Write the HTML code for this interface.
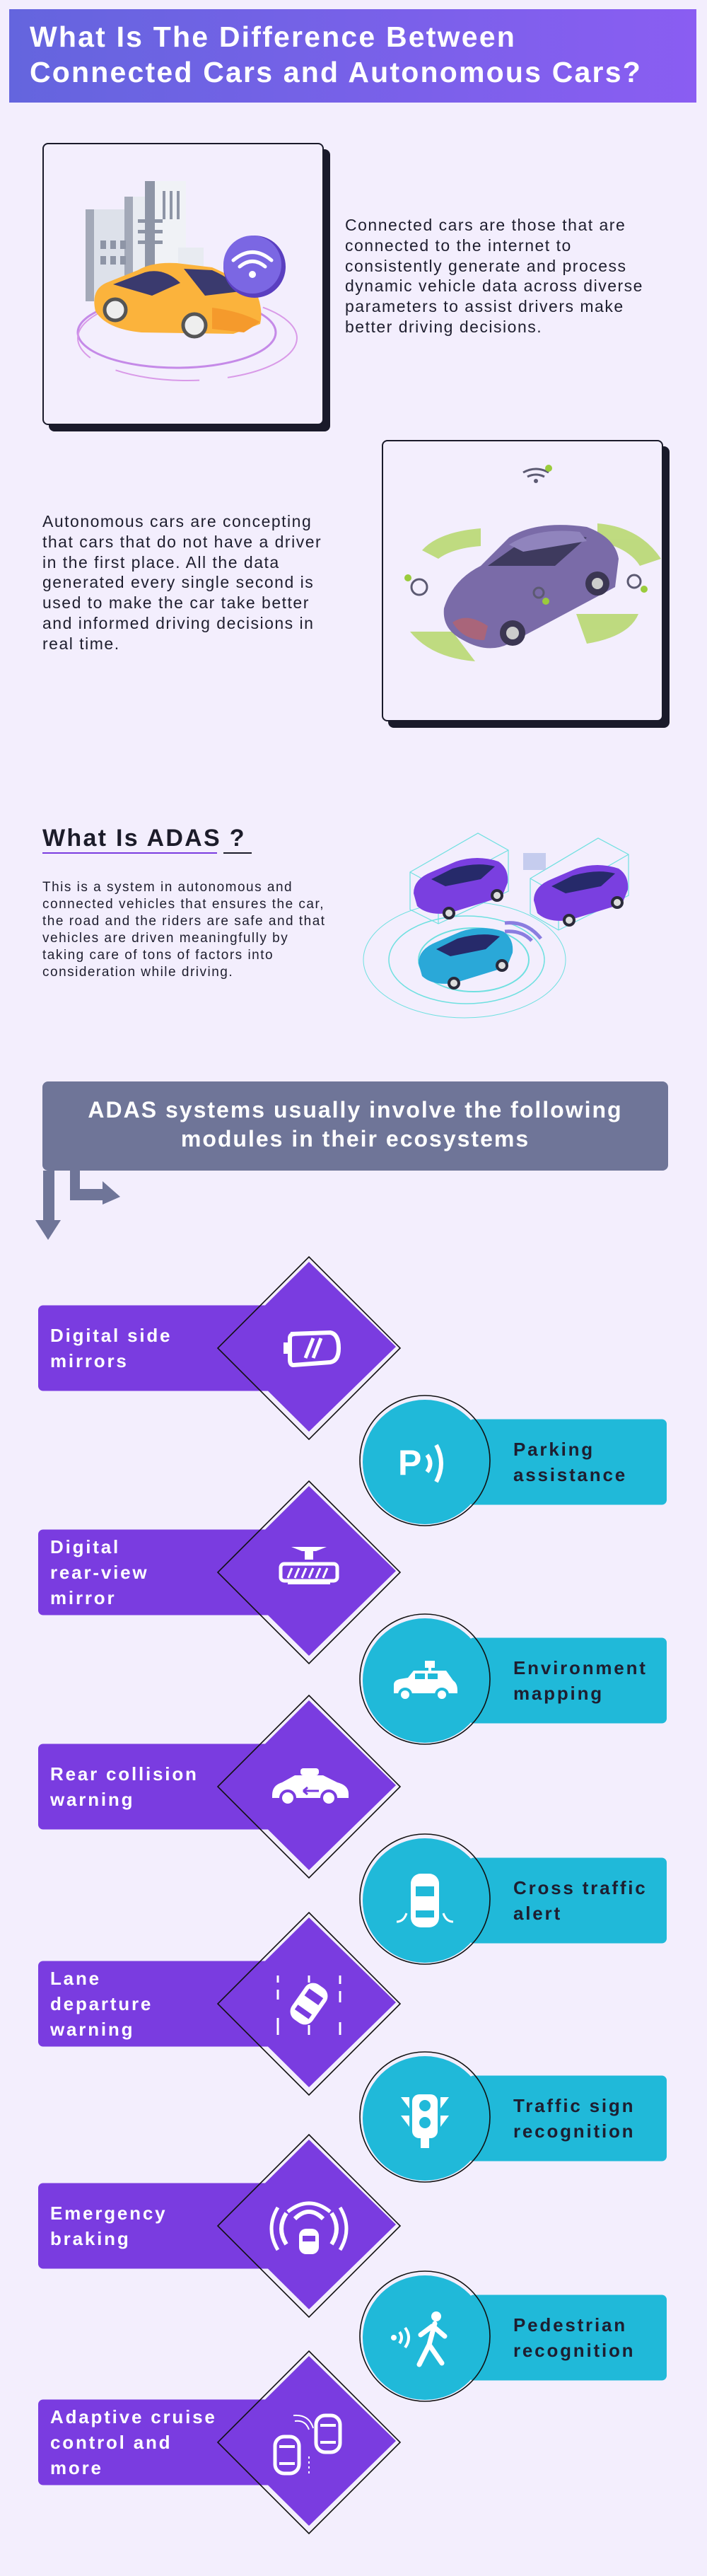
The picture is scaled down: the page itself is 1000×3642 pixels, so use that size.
<!DOCTYPE html>
<html><head><meta charset="utf-8">
<style>
html,body{margin:0;padding:0}
body{width:1000px;height:3642px;background:#f3eefd;position:relative;overflow:hidden;font-family:"Liberation Sans",sans-serif}
.abs{position:absolute}
.title{left:42px;top:27px;color:#fff;font-weight:bold;font-size:41px;line-height:50px;letter-spacing:2.2px;white-space:nowrap}
.p{color:#1e1e2e;font-size:23px;line-height:28.8px;letter-spacing:1.5px;white-space:nowrap}
.box{background:#f3eefd;border:2px solid #1a1a2a;border-radius:8px;box-shadow:9px 9px 0 #1a1a2a}
.lbl{display:flex;align-items:center;font-weight:bold;font-size:26px;line-height:36px;letter-spacing:2.8px;white-space:nowrap}
</style></head>
<body>
<div class="abs" style="left:13px;top:13px;width:972px;height:132px;background:linear-gradient(90deg,#6465de,#8a5df2)"></div>
<div class="abs title">What Is The Difference Between<br>Connected Cars and Autonomous Cars?</div>

<div class="abs box" style="left:60px;top:202px;width:394px;height:395px">
<svg width="394" height="395">
 <g transform="translate(-62,-204)">
  <rect x="121" y="296" width="62" height="130" fill="#dde1ea"/><rect x="121" y="296" width="12" height="130" fill="#a3a9b8"/>
  <rect x="176" y="278" width="60" height="150" fill="#e8ebf1"/><rect x="176" y="278" width="12" height="150" fill="#a3a9b8"/>
  <rect x="205" y="256" width="58" height="150" fill="#f0f2f6"/><rect x="205" y="256" width="14" height="150" fill="#8e95a6"/>
  <rect x="252" y="350" width="36" height="80" fill="#e8ebf1"/>
  <g fill="#8e95a6"><rect x="142" y="340" width="8" height="12"/><rect x="156" y="340" width="8" height="12"/><rect x="170" y="340" width="8" height="12"/><rect x="142" y="362" width="8" height="12"/><rect x="156" y="362" width="8" height="12"/><rect x="170" y="362" width="8" height="12"/><rect x="195" y="310" width="35" height="5"/><rect x="195" y="325" width="35" height="5"/><rect x="195" y="340" width="35" height="5"/><rect x="230" y="270" width="4" height="40"/><rect x="240" y="270" width="4" height="40"/><rect x="250" y="270" width="4" height="40"/></g>
  <ellipse cx="250" cy="470" rx="140" ry="50" fill="none" stroke="#c58ae8" stroke-width="3"/>
  <ellipse cx="265" cy="478" rx="155" ry="60" fill="none" stroke="#d99ae8" stroke-width="2" stroke-dasharray="120 40"/>
  <path d="M135 440 Q128 410 150 400 L195 382 Q215 370 250 372 L300 378 Q340 395 365 420 Q372 440 368 458 L330 472 L200 470 Q150 465 135 440Z" fill="#fbb33c"/>
  <path d="M160 402 L205 385 Q232 378 255 400 L215 418Z" fill="#3a3a6e"/>
  <path d="M260 380 L300 382 Q330 395 340 412 L290 418Z" fill="#3a3a6e"/>
  <path d="M300 435 Q340 440 368 455 L345 470 L300 465Z" fill="#f59a2c"/>
  <circle cx="163" cy="438" r="15" fill="#eee" stroke="#555" stroke-width="5"/>
  <circle cx="275" cy="460" r="16" fill="#eee" stroke="#555" stroke-width="5"/>
  <circle cx="360" cy="377" r="44" fill="#5a3fc0"/><circle cx="357" cy="374" r="41" fill="#7b67e3"/>
  <g fill="none" stroke="#fff" stroke-width="5" stroke-linecap="round"><path d="M330 368 Q357 345 384 368"/><path d="M339 377 Q357 362 375 377"/></g>
  <circle cx="357" cy="388" r="5" fill="#fff"/>
 </g>
</svg></div>
<div class="abs p" style="left:488px;top:304px">Connected cars are those that are<br>connected to the internet to<br>consistently generate and process<br>dynamic vehicle data across diverse<br>parameters to assist drivers make<br>better driving decisions.</div>

<div class="abs p" style="left:60px;top:723px">Autonomous cars are concepting<br>that cars that do not have a driver<br>in the first place. All the data<br>generated every single second is<br>used to make the car take better<br>and informed driving decisions in<br>real time.</div>
<div class="abs box" style="left:540px;top:622px;width:394px;height:394px">
<svg width="394" height="394">
 <g transform="translate(-542,-624)">
  <g fill="#b5d76a" opacity="0.85">
   <path d="M597 778 Q620 752 680 747 L680 772 Q640 775 620 790Z"/><path d="M845 740 Q905 745 935 790 L905 800 Q890 775 845 765Z"/>
   <path d="M580 893 L640 893 L672 935 Q610 930 580 893Z"/><path d="M815 868 L903 868 Q890 900 830 910Z"/>
  </g>
  <path d="M628 860 Q640 820 680 800 L720 760 Q760 735 830 745 Q870 760 875 790 L870 830 L720 910 Q690 925 655 905 Q625 890 628 860Z" fill="#7a6ba8"/>
  <path d="M690 800 L735 768 Q780 750 830 760 L785 800Z" fill="#3e3a5e"/>
  <path d="M720 770 Q760 745 820 752 L830 765 L740 780Z" fill="#9084bd"/>
  <path d="M640 880 Q660 865 690 885 L685 905 Q655 905 640 880Z" fill="#a9657a"/>
  <circle cx="725" cy="895" r="18" fill="#3b3652"/><circle cx="725" cy="895" r="9" fill="#ccc"/>
  <circle cx="845" cy="825" r="17" fill="#3b3652"/><circle cx="845" cy="825" r="8" fill="#ccc"/>
  <g fill="none" stroke="#5c5a72" stroke-width="3"><path d="M740 668 Q758 658 776 668"/><path d="M746 674 Q758 668 770 674"/><circle cx="593" cy="830" r="11"/><circle cx="897" cy="822" r="9"/><circle cx="762" cy="838" r="7"/></g>
  <circle cx="758" cy="680" r="3" fill="#5c5a72"/>
  <g fill="#9acb3c"><circle cx="776" cy="662" r="5"/><circle cx="577" cy="817" r="5"/><circle cx="911" cy="833" r="5"/><circle cx="772" cy="850" r="5"/></g>
 </g>
</svg></div>

<div class="abs" style="left:60px;top:1165px;font-weight:bold;font-size:34px;line-height:40px;color:#1c1c2a;letter-spacing:2.3px;white-space:nowrap">What Is ADAS ?</div>
<div class="abs" style="left:60px;top:1205px;width:247px;height:2px;background:#7a3be0"></div>
<div class="abs" style="left:316px;top:1205px;width:40px;height:2px;background:#1c1c2a"></div>
<div class="abs" style="left:60px;top:1243px;font-size:19px;line-height:24px;letter-spacing:1.5px;color:#1e1e2e;white-space:nowrap">This is a system in autonomous and<br>connected vehicles that ensures the car,<br>the road and the riders are safe and that<br>vehicles are driven meaningfully by<br>taking care of tons of factors into<br>consideration while driving.</div>

<svg class="abs" style="left:500px;top:1150px" width="420" height="320">
 <defs><g id="car"><path d="M0 50 Q0 30 25 20 L60 5 Q90 -5 120 5 Q135 15 133 35 L125 55 L50 78 Q20 82 5 68Z"/><path d="M25 30 L55 15 Q90 5 115 12 L95 30 L45 40Z" fill="#262a6a"/><circle cx="50" cy="78" r="9" fill="#2a2a3a"/><circle cx="50" cy="78" r="5" fill="#ddd"/><circle cx="118" cy="53" r="9" fill="#2a2a3a"/><circle cx="118" cy="53" r="5" fill="#ddd"/></g></defs>
 <g fill="none" stroke="#6fe0e0">
  <ellipse cx="157" cy="207" rx="143" ry="82" stroke-width="1"/><ellipse cx="160" cy="207" rx="110" ry="62" stroke-width="1.5"/><ellipse cx="170" cy="207" rx="78" ry="45" stroke-width="2"/>
  <path d="M80 83 L176 28 L219 52 L219 110 L120 156 L80 136Z M80 83 L120 105 L219 52 M120 105 L120 156" stroke-width="1.2"/>
  <path d="M250 92 L346 35 L389 58 L389 116 L290 165 L250 142Z M250 92 L290 115 L389 58 M290 115 L290 165" stroke-width="1.2"/>
 </g>
 <use href="#car" x="85" y="63" fill="#7a3fe0"/>
 <use href="#car" x="255" y="73" fill="#7a3fe0"/>
 <use href="#car" x="92" y="162" fill="#2aa8d8"/>
 <rect x="240" y="56" width="32" height="24" fill="#b9c3ea" opacity="0.8"/>
 <g fill="none" stroke="#8a7de0" stroke-width="5"><path d="M214 155 Q245 152 265 177"/><path d="M214 167 Q238 165 252 180"/></g>
</svg>

<div class="abs" style="left:60px;top:1529px;width:885px;height:126px;background:#6f7598;border-radius:8px"></div>
<div class="abs" style="left:60px;top:1569px;width:885px;text-align:center;color:#fff;font-weight:bold;font-size:32px;line-height:41px;letter-spacing:2px;white-space:nowrap;transform:translateY(-20px)">ADAS systems usually involve the following<br>modules in their ecosystems</div>
<svg class="abs" style="left:0;top:1650px" width="200" height="110">
 <path d="M61 5 L77 5 L77 75 L86 75 L68 103 L50 75 L61 75Z" fill="#6f7598"/>
 <path d="M99 0 L113 0 L113 31 L145 31 L145 20 L170 42 L145 53 L145 47 L99 47Z" fill="#6f7598"/>
</svg>

<svg id="mods" class="abs" style="left:0;top:0" width="1000" height="3642"></svg>
<div id="labels"></div>

<script>
const purpleLabels = [["Digital side","mirrors"],["Digital","rear-view","mirror"],["Rear collision","warning"],["Lane","departure","warning"],["Emergency","braking"],["Adaptive cruise","control and","more"]];
const purpleCenters = [1906, 2223, 2526, 2833, 3147, 3453];
const purpleIcons = ["mirror","rearview","collision","lane","braking","cruise"];
const tealLabels = [["Parking","assistance"],["Environment","mapping"],["Cross traffic","alert"],["Traffic sign","recognition"],["Pedestrian","recognition"]];
const tealCenters = [2067, 2376, 2687, 2995, 3305];
const tealIcons = ["parking","envmap","cross","traffic","pedestrian"];

const NS="http://www.w3.org/2000/svg";
const svg=document.getElementById('mods');
const labels=document.getElementById('labels');
const icons={
 mirror:'<rect x="-36" y="-8" width="10" height="16" fill="#fff"/><path d="M-26 -20 L30 -22 Q42 -20 42 0 Q42 18 30 20 L-22 24 Q-27 24 -27 16 L-27 -14 Q-27 -20 -20 -20Z" fill="none" stroke="#fff" stroke-width="6"/><path d="M-5 14 L6 -14 M6 14 L17 -14" stroke="#fff" stroke-width="5"/>',
 rearview:'<path d="M-25 -36 L25 -36 L10 -30 L-10 -30Z" fill="#fff"/><rect x="-6" y="-30" width="12" height="12" fill="#fff"/><rect x="-40" y="-12" width="80" height="24" rx="5" fill="none" stroke="#fff" stroke-width="5"/><path d="M-30 8 L-24 -6 M-20 8 L-14 -6 M-10 8 L-4 -6 M0 8 L6 -6 M10 8 L16 -6 M20 8 L26 -6" stroke="#fff" stroke-width="3"/><rect x="-30" y="14" width="60" height="3" fill="#fff"/>',
 collision:'<rect x="-12" y="-26" width="26" height="10" rx="4" fill="#fff"/><path d="M-52 12 Q-52 -2 -38 -6 L-20 -16 L20 -16 L40 -6 Q56 -2 56 10 L56 16 L-52 16Z" fill="#fff"/><circle cx="-30" cy="16" r="10" fill="#fff" stroke="#7a3ce0" stroke-width="4"/><circle cx="28" cy="16" r="10" fill="#fff" stroke="#7a3ce0" stroke-width="4"/><path d="M-8 6 L14 6 M-8 6 L-2 1 M-8 6 L-2 11" stroke="#7a3ce0" stroke-width="3"/>',
 lane:'<path d="M-44 -40 L-44 -30 M-44 -20 L-44 -6 M-44 20 L-44 44 M0 -40 L0 -30 M0 30 L0 44 M44 -40 L44 -28 M44 -18 L44 -2 M44 26 L44 44" stroke="#fff" stroke-width="3"/><g transform="rotate(35)"><rect x="-18" y="-30" width="36" height="60" rx="14" fill="#fff"/><rect x="-12" y="-18" width="24" height="12" fill="#7a3ce0"/><rect x="-12" y="10" width="24" height="8" fill="#7a3ce0"/></g>',
 braking:'<g fill="none" stroke="#fff" stroke-width="6"><path d="M-32 -18 Q-46 4 -32 26"/><path d="M32 -18 Q46 4 32 26"/><path d="M-20 -10 Q0 -30 20 -10"/></g><g fill="none" stroke="#fff" stroke-width="5"><path d="M-44 -26 Q-62 4 -44 34"/><path d="M44 -26 Q62 4 44 34"/><path d="M-30 -20 Q0 -44 30 -20"/></g><rect x="-14" y="4" width="28" height="36" rx="10" fill="#fff"/><rect x="-9" y="14" width="18" height="8" fill="#7a3ce0"/>',
 cruise:'<rect x="-48" y="-8" width="34" height="52" rx="13" fill="none" stroke="#fff" stroke-width="5"/><rect x="10" y="-38" width="34" height="52" rx="13" fill="none" stroke="#fff" stroke-width="5"/><path d="M-42 6 L-20 6 M16 -24 L38 -24 M-42 30 L-20 30 M16 0 L38 0" stroke="#fff" stroke-width="4"/><path d="M0 20 L0 44" stroke="#fff" stroke-width="2" stroke-dasharray="3 4"/><g fill="none" stroke="#fff" stroke-width="2"><path d="M-20 -30 Q-5 -32 0 -18"/><path d="M-22 -38 Q0 -40 6 -20"/></g>',
 parking:'<text x="-38" y="18" font-family="Liberation Sans" font-weight="bold" font-size="50" fill="#fff">P</text><g fill="none" stroke="#fff" stroke-width="6"><path d="M3 -10 Q12 2 3 14"/><path d="M16 -24 Q30 2 16 28"/></g>',
 envmap:'<rect x="0" y="-28" width="14" height="10" fill="#fff"/><rect x="5" y="-18" width="4" height="12" fill="#fff"/><rect x="-12" y="-8" width="36" height="4" fill="#fff"/><path d="M-44 18 L-44 6 Q-44 0 -36 -2 L-24 -4 L-16 -14 L30 -14 L40 0 Q46 4 46 14 L46 18Z" fill="#fff"/><circle cx="-28" cy="20" r="8" fill="#fff" stroke="#20b9d9" stroke-width="4"/><circle cx="24" cy="20" r="8" fill="#fff" stroke="#20b9d9" stroke-width="4"/><rect x="-14" y="-10" width="14" height="8" fill="#20b9d9"/><rect x="4" y="-10" width="14" height="8" fill="#20b9d9"/>',
 cross:'<rect x="-20" y="-38" width="40" height="76" rx="14" fill="#fff"/><rect x="-13" y="-20" width="26" height="14" fill="#20b9d9"/><rect x="-13" y="14" width="26" height="10" fill="#20b9d9"/><g fill="none" stroke="#fff" stroke-width="3"><path d="M-26 18 Q-30 30 -40 30"/><path d="M26 18 Q30 30 40 30"/></g>',
 traffic:'<rect x="-18" y="-34" width="36" height="62" rx="10" fill="#fff"/><circle cx="0" cy="-18" r="8" fill="#20b9d9"/><circle cx="0" cy="6" r="8" fill="#20b9d9"/><rect x="-6" y="28" width="12" height="14" fill="#fff"/><path d="M-34 -30 L-22 -30 L-22 -14 Z M34 -30 L22 -30 L22 -14 Z M-34 -4 L-22 -4 L-22 12 Z M34 -4 L22 -4 L22 12Z" fill="#fff"/>',
 pedestrian:'<circle cx="-44" cy="0" r="4" fill="#fff"/><g fill="none" stroke="#fff" stroke-width="4"><path d="M-36 -8 Q-30 0 -36 8"/><path d="M-28 -14 Q-18 0 -28 14"/></g><circle cx="16" cy="-30" r="7" fill="#fff"/><path d="M14 -20 L6 10 L-8 38 M6 10 L24 36 M10 -16 L-6 -4 M14 -14 L28 -2" fill="none" stroke="#fff" stroke-width="7" stroke-linecap="round"/>'
};
function el(tag,attrs){const e=document.createElementNS(NS,tag);for(const k in attrs)e.setAttribute(k,attrs[k]);svg.appendChild(e);return e;}
purpleCenters.forEach((c,i)=>{
 const bar=el('rect',{x:54,y:c-60.5,width:332,height:121,rx:7,fill:'#7a3ce0'});
 
 
 const fill=el('polygon',{points:`437,${c-122} 560,${c-2} 437,${c+118} 316,${c-2}`,fill:'#7a3ce0'});
 
 
 el('polygon',{points:`437,${c-129} 566,${c} 437,${c+129} 308,${c}`,fill:'none',stroke:'#111',"stroke-width":1.6});
 const g=el('g',{transform:`translate(437,${c})`});
 g.innerHTML=icons[purpleIcons[i]];
 
 
 const d=document.createElement('div');
 d.className='abs lbl';
 d.style.cssText=`left:71px;top:${c-60.5}px;height:121px;color:#fff`;
 d.innerHTML=purpleLabels[i].join('<br>');
 
 
 labels.appendChild(d);
});
tealCenters.forEach((c,i)=>{
 const circ=el('circle',{cx:601,cy:c,r:88,fill:'#20b9d9'});
 
 
 const bar=el('rect',{x:663,y:c-60.5,width:280,height:121,rx:7,fill:'#20b9d9'});
 
 
 el('circle',{cx:601,cy:c-2,r:92,fill:'none',stroke:'#111',"stroke-width":1.6});
 const g=el('g',{transform:`translate(601,${c})`});
 g.innerHTML=icons[tealIcons[i]];
 
 
 const d=document.createElement('div');
 d.className='abs lbl';
 d.style.cssText=`left:726px;top:${c-60.5}px;height:121px;color:#1e1e30`;
 d.innerHTML=tealLabels[i].join('<br>');
 
 
 labels.appendChild(d);
});
</script>
</body></html>
